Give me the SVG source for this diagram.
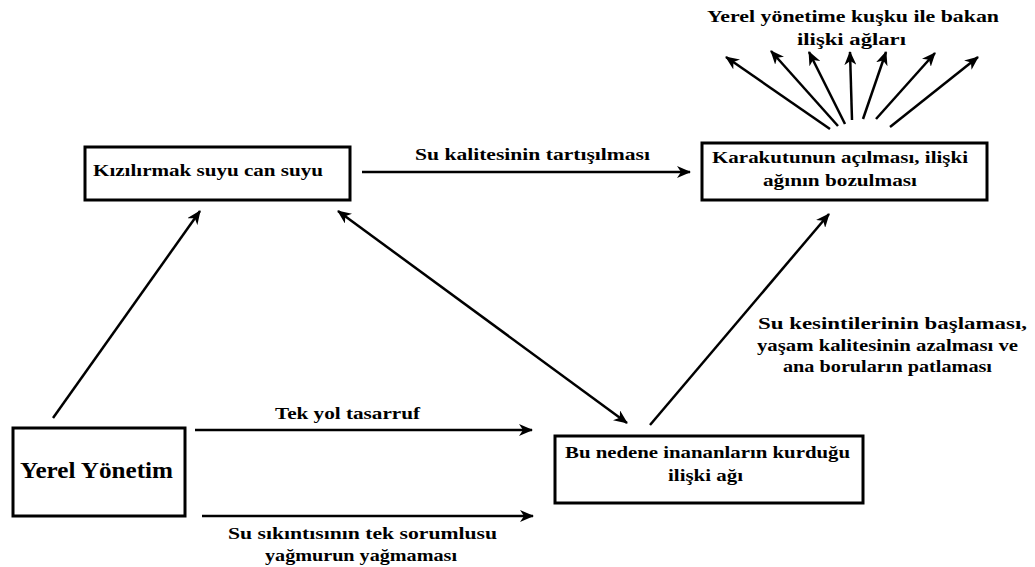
<svg xmlns="http://www.w3.org/2000/svg" width="1035" height="567" viewBox="0 0 1035 567">
<defs>
<style>
.box{fill:#fff;stroke:#000;stroke-width:3}
.c{stroke:#000;stroke-width:2.5;fill:none;marker-end:url(#ah)}
</style>
<marker id="ah" viewBox="0 0 14 12" refX="13" refY="6" markerWidth="14" markerHeight="12" markerUnits="userSpaceOnUse" orient="auto-start-reverse">
<path d="M0,0 L14,6 L0,12 L4,6 z" fill="#000"/>
</marker>
</defs>
<rect width="1035" height="567" fill="#fff"/>
<g font-family="Liberation Serif, DejaVu Serif, serif" font-weight="bold" font-size="17" fill="#000">
<g id="n-kizilirmak">
<rect class="box" x="85" y="147" width="265" height="53"/>
<text x="93" y="176" textLength="230" lengthAdjust="spacingAndGlyphs">Kızılırmak suyu can suyu</text>
</g>
<g id="n-karakutu">
<rect class="box" x="702" y="143" width="285" height="57"/>
<text x="712" y="163" textLength="256" lengthAdjust="spacingAndGlyphs">Karakutunun açılması, ilişki</text>
<text x="763" y="186" textLength="154" lengthAdjust="spacingAndGlyphs">ağının bozulması</text>
</g>
<g id="n-yerel">
<rect class="box" x="13" y="428" width="172" height="88"/>
<text font-size="24" x="20" y="478" textLength="153" lengthAdjust="spacingAndGlyphs">Yerel Yönetim</text>
</g>
<g id="n-bunedene">
<rect class="box" x="555" y="436" width="308" height="67"/>
<text x="565" y="458" textLength="285" lengthAdjust="spacingAndGlyphs">Bu nedene inananların kurduğu</text>
<text x="668" y="481" textLength="75" lengthAdjust="spacingAndGlyphs">ilişki ağı</text>
</g>
<g id="n-kusku">
<text x="707" y="22" textLength="292" lengthAdjust="spacingAndGlyphs">Yerel yönetime kuşku ile bakan</text>
<text x="797" y="45" textLength="109" lengthAdjust="spacingAndGlyphs">ilişki ağları</text>
</g>
<g id="connectors">
<line class="c" x1="362" y1="172" x2="690" y2="172"/>
<text x="415" y="160" textLength="235" lengthAdjust="spacingAndGlyphs">Su kalitesinin tartışılması</text>
<line class="c" x1="53" y1="418" x2="200" y2="211"/>
<line class="c" x1="195" y1="430" x2="532" y2="430"/>
<text x="275" y="419" textLength="145" lengthAdjust="spacingAndGlyphs">Tek yol tasarruf</text>
<line class="c" x1="202" y1="516" x2="533" y2="516"/>
<text x="228" y="539" textLength="269" lengthAdjust="spacingAndGlyphs">Su sıkıntısının tek sorumlusu</text>
<text x="265" y="561" textLength="192" lengthAdjust="spacingAndGlyphs">yağmurun yağmaması</text>
<line class="c" x1="338" y1="211" x2="627" y2="423" style="marker-start:url(#ah)"/>
<line class="c" x1="650" y1="425" x2="829" y2="214"/>
<text x="758" y="329" textLength="269" lengthAdjust="spacingAndGlyphs">Su  kesintilerinin  başlaması,</text>
<text x="757" y="351" textLength="261" lengthAdjust="spacingAndGlyphs">yaşam kalitesinin azalması ve</text>
<text x="783" y="372" textLength="209" lengthAdjust="spacingAndGlyphs">ana boruların patlaması</text>
<line class="c" x1="830" y1="129" x2="726" y2="57"/>
<line class="c" x1="838" y1="126" x2="771" y2="51"/>
<line class="c" x1="845" y1="124" x2="809" y2="52"/>
<line class="c" x1="852" y1="120" x2="850" y2="52"/>
<line class="c" x1="863" y1="119" x2="886" y2="52"/>
<line class="c" x1="876" y1="119" x2="935" y2="53"/>
<line class="c" x1="890" y1="127" x2="978" y2="57"/>
</g>
</g>
</svg>
